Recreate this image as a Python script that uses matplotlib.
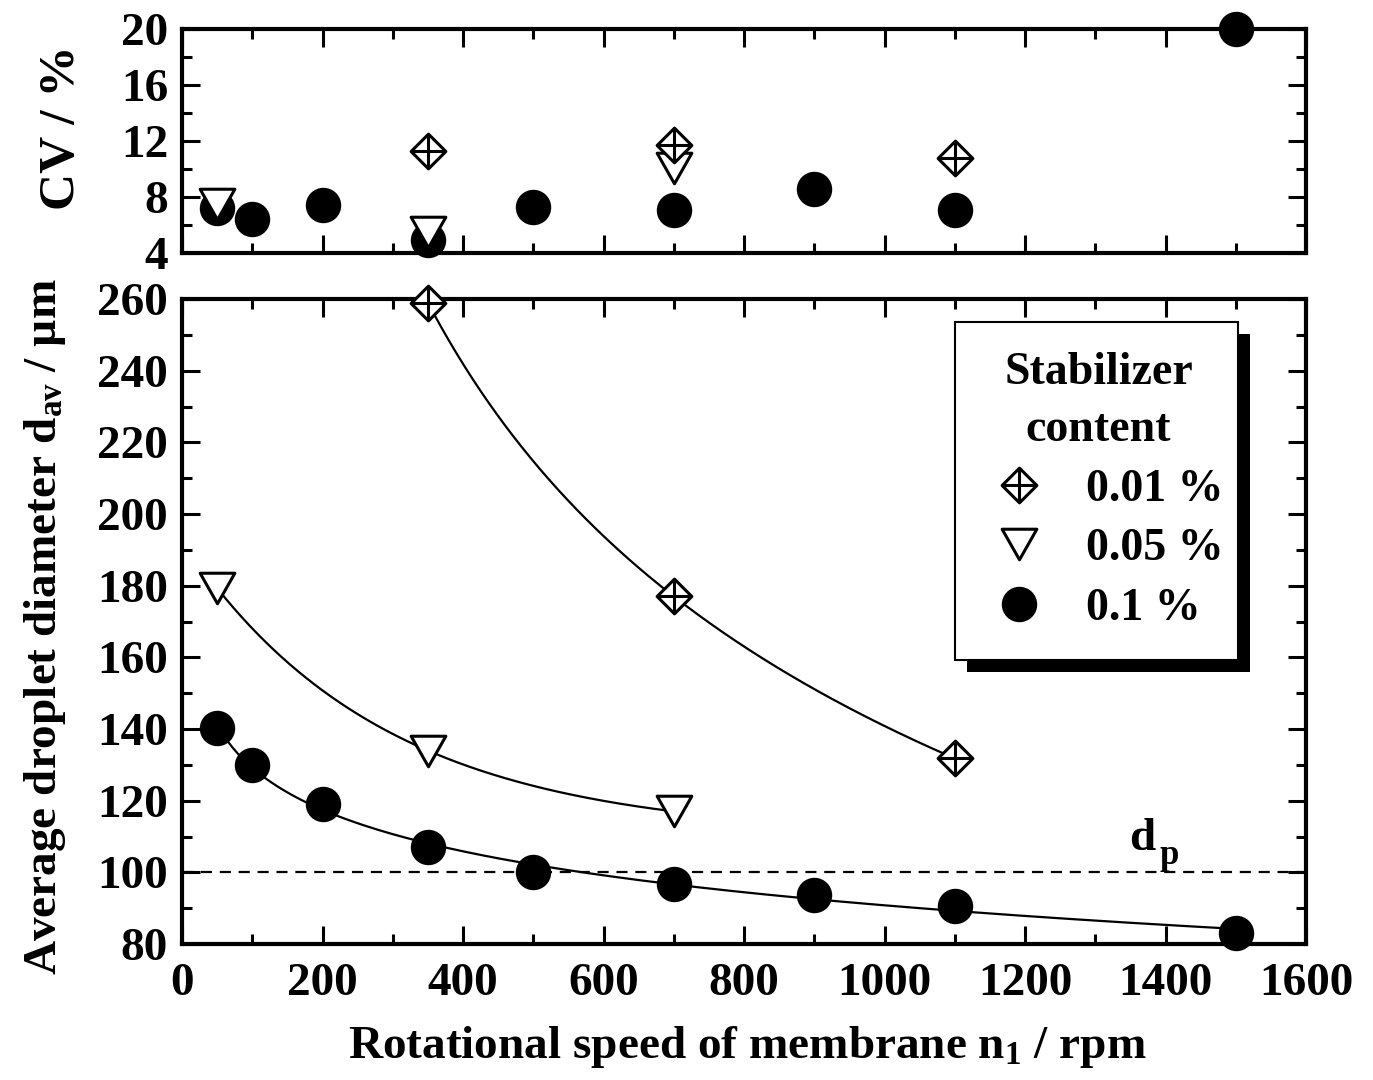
import numpy as np
import matplotlib
matplotlib.use('Agg')
import matplotlib.pyplot as plt
from matplotlib.path import Path
from matplotlib.lines import Line2D
from matplotlib.patches import Rectangle

plt.rcParams['font.family'] = ['Liberation Serif', 'DejaVu Serif']
plt.rcParams['font.weight'] = 'bold'
plt.rcParams['mathtext.fontset'] = 'custom'
plt.rcParams['mathtext.rm'] = 'Liberation Serif:bold'
plt.rcParams['mathtext.it'] = 'Liberation Serif:bold'
plt.rcParams['mathtext.bf'] = 'Liberation Serif:bold'

# ---------------- data ----------------
n_001 = [350, 700, 1100]
d_001 = [259, 177, 131.8]
cv_001 = [11.3, 11.7, 10.8]

n_005 = [50, 350, 700]
d_005 = [179.3, 134, 117]
cv_005 = [7.5, 5.5, 10.1]

n_01 = [50, 100, 200, 350, 500, 700, 900, 1100, 1500]
d_01 = [140.3, 130, 119, 107, 100.2, 96.8, 93.8, 90.5, 83]
cv_01 = [7.2, 6.4, 7.4, 4.9, 7.3, 7.1, 8.6, 7.1, 20.0]

d_pore = 100
legend_labels = ['0.01 %', '0.05 %', '0.1 %']
legend_title = 'Stabilizer\ncontent'

# ---------------- markers ----------------
diamond_plus = Path(
    [(0, 1), (1, 0), (0, -1), (-1, 0), (0, 1),
     (0, 1), (0, -1), (-1, 0), (1, 0)],
    [Path.MOVETO, Path.LINETO, Path.LINETO, Path.LINETO, Path.CLOSEPOLY,
     Path.MOVETO, Path.LINETO, Path.MOVETO, Path.LINETO])
tri_down = Path([(-1, 0.88), (1, 0.88), (0, -0.88), (-1, 0.88)],
                [Path.MOVETO, Path.LINETO, Path.LINETO, Path.CLOSEPOLY])

st_001 = dict(marker=diamond_plus, ms=25, mfc='white', mec='black', mew=2.2, ls='none')
st_005 = dict(marker=tri_down, ms=25, mfc='white', mec='black', mew=2.2, ls='none')
st_01 = dict(marker='o', ms=24.5, mfc='black', mec='black', mew=1, ls='none')


def _lin_fit(x, y, basis_list):
    best = None
    for p, f in basis_list:
        A = np.column_stack([np.ones_like(x), f])
        coef = np.linalg.lstsq(A, y, rcond=None)[0]
        err = np.sum((A @ coef - y) ** 2)
        if best is None or err < best[0]:
            best = (err, coef, p)
    return best[1], best[2]


def fit_power_offset(x, y):
    x = np.asarray(x, float)
    y = np.asarray(y, float)
    cs = np.linspace(-1.5, -0.02, 400)
    (a, b), c = _lin_fit(x, y, [(c, x ** c) for c in cs])
    xs = np.linspace(x.min(), x.max(), 400)
    return xs, a + b * xs ** c


def fit_exp_decay(x, y):
    x = np.asarray(x, float)
    y = np.asarray(y, float)
    taus = np.linspace(100, 1000, 901)
    (a, b), t = _lin_fit(x, y, [(t, np.exp(-x / t)) for t in taus])
    xs = np.linspace(x.min(), x.max(), 400)
    return xs, a + b * np.exp(-xs / t)


fig = plt.figure(figsize=(13.73, 10.80), dpi=100)
W, H = 1373, 1080
L, R = 182, 1306
ax_top = fig.add_axes([L / W, 1 - 253 / H, (R - L) / W, (253 - 29) / H])
ax = fig.add_axes([L / W, 1 - 944 / H, (R - L) / W, (944 - 299) / H])

TS = 34
for a in (ax_top, ax):
    a.set_xlim(0, 1600)
    a.tick_params(which='both', direction='in', top=True, right=True, width=2.2,
                  labelsize=TS)
    a.tick_params(which='major', length=13)
    a.tick_params(which='minor', length=7)
    a.tick_params(axis='x', pad=14)
    a.tick_params(axis='y', pad=10)
    for s in a.spines.values():
        s.set_linewidth(3)
    a.set_xticks(np.arange(0, 1601, 200))
    a.set_xticks(np.arange(0, 1601, 100), minor=True)

# ---- top panel ----
ax_top.set_ylim(4, 20)
ax_top.set_yticks(np.arange(4, 21, 4))
ax_top.set_yticks(np.arange(4, 21, 2), minor=True)
ax_top.tick_params(axis='x', labelbottom=False)
ax_top.plot(n_01, cv_01, clip_on=False, zorder=3, **st_01)
ax_top.plot(n_005, cv_005, clip_on=False, zorder=4, **st_005)
ax_top.plot(n_001, cv_001, clip_on=False, zorder=5, **st_001)

# ---- bottom panel ----
ax.set_ylim(80, 260)
ax.set_yticks(np.arange(80, 261, 20))
ax.set_yticks(np.arange(80, 261, 10), minor=True)

for xs, ys in (fit_power_offset(n_01, d_01), fit_exp_decay(n_005, d_005),
               fit_power_offset(n_001, d_001)):
    ax.plot(xs, ys, color='black', lw=1.6, zorder=2)

ax.axhline(d_pore, color='black', lw=1.6, ls=(0, (5, 3.5)), zorder=1)
ax.text(1348, 106.2, 'd', fontsize=TS, ha='left', va='baseline')
ax.text(1392, 102.4, 'p', fontsize=25, ha='left', va='baseline')

ax.plot(n_01, d_01, clip_on=False, zorder=3, **st_01)
ax.plot(n_005, d_005, clip_on=False, zorder=4, **st_005)
ax.plot(n_001, d_001, clip_on=False, zorder=5, **st_001)

# ---- legend with box and solid shadow ----
bx0, bx1 = (955 - L) / (R - L), (1238 - L) / (R - L)
by0, by1 = (944 - 660) / (944 - 299), (944 - 322) / (944 - 299)
sx, sy = 12 / (R - L), 12 / (944 - 299)
ax.add_patch(Rectangle((bx0 + sx, by0 - sy), bx1 - bx0, by1 - by0,
                       transform=ax.transAxes, facecolor='black',
                       edgecolor='none', zorder=8, clip_on=False))
ax.add_patch(Rectangle((bx0, by0), bx1 - bx0, by1 - by0,
                       transform=ax.transAxes, facecolor='white',
                       edgecolor='black', lw=1.5, zorder=9, clip_on=False))

handles = [Line2D([], [], **st_001), Line2D([], [], **st_005), Line2D([], [], **st_01)]
leg = ax.legend(handles, legend_labels, title=legend_title, fontsize=33,
                title_fontsize=33, loc='center',
                bbox_to_anchor=((bx0 + bx1) / 2 + 2 / (R - L), (944 - 491) / (944 - 299)),
                frameon=False, borderpad=0, handlelength=1.96,
                handletextpad=0.48, labelspacing=0.38, borderaxespad=0,
                numpoints=1)
leg.get_title().set_fontweight('bold')
leg.get_title().set_multialignment('center')
leg.get_title().set_linespacing(1.47)
leg.set_zorder(10)

fig.text(747 / W, 1 - 1047 / H, r'Rotational speed of membrane n$_{\mathbf{1}}$ / rpm',
         fontsize=34, ha='center', va='center')
fig.text(45 / W, 1 - 627 / H, r'Average droplet diameter d$_{\mathbf{av}}$ / µm',
         fontsize=34, ha='center', va='center', rotation=90)
fig.text(62 / W, 1 - 128 / H, 'CV / %', fontsize=37, ha='center', va='center',
         rotation=90)

fig.savefig('out.png', dpi=100)
